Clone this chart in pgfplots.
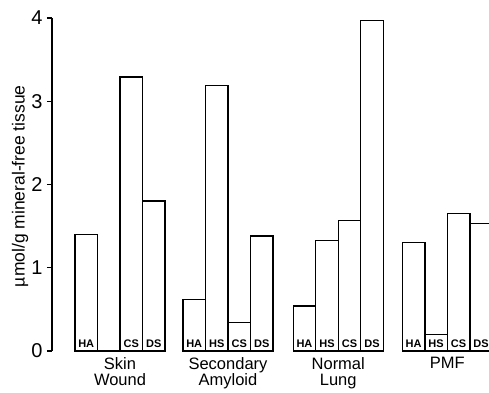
\documentclass[border=0pt]{standalone}
\usepackage{pgfplots}
\pgfplotsset{compat=1.18}
\usepackage{fontspec}
\setmainfont{Liberation Sans}
\begin{document}
\begin{tikzpicture}
\useasboundingbox (-52pt,-41pt) rectangle (437pt,351pt);
\begin{axis}[
  scale only axis,
  width=437pt, height=333pt,
  at={(0,0)}, anchor=south west,
  xmin=-1.022, xmax=18.4,
  ymin=0, ymax=4,
  axis y line=left,
  axis x line=bottom,
  axis line style={-, line width=1.4pt},
  x axis line style={draw=none},
  ytick={0,1,2,3,4},
  tick align=outside,
  major tick length=5pt,
  ytick style={line width=1.4pt, black},
  xtick style={draw=none},
  xtick={2,6.8,11.7,16.55},
  xticklabels={Skin\\Wound, Secondary\\Amyloid, Normal\\Lung, PMF},
  xticklabel style={align=center, font=\fontsize{16.5}{16}\selectfont, yshift=2pt},
  yticklabel style={font=\fontsize{20}{22}\selectfont, xshift=-1pt},
  /pgf/number format/assume math mode=true,
  ylabel={µmol/g mineral-free tissue},
  ylabel style={at={(axis description cs:-0.073,0.495)}, anchor=center, font=\fontsize{17.5}{20}\selectfont},
  clip=true,
]
\addplot[ybar, bar width=1, draw=black, fill=white, line width=1.4pt, bar shift=0pt]
coordinates {
 (0.5,1.40) (1.5,0) (2.5,3.29) (3.5,1.80)
 (5.3,0.62) (6.3,3.19) (7.3,0.34) (8.3,1.38)
 (10.2,0.54) (11.2,1.33) (12.2,1.57) (13.2,3.97)
 (15.05,1.30) (16.05,0.20) (17.05,1.65) (18.05,1.53)
};
\foreach \xx/\lab in {0.5/HA,2.5/CS,3.5/DS,5.3/HA,6.3/HS,7.3/CS,8.3/DS,10.2/HA,11.2/HS,12.2/CS,13.2/DS,15.05/HA,16.05/HS,17.05/CS,18.05/DS}{
  \edef\temp{\noexpand\node[anchor=south, inner sep=0pt, font=\noexpand\fontsize{11}{12}\noexpand\selectfont\noexpand\bfseries] at (axis cs:\xx,0) [yshift=3pt] {\lab};}
  \temp
}
\end{axis}
\end{tikzpicture}
\end{document}
